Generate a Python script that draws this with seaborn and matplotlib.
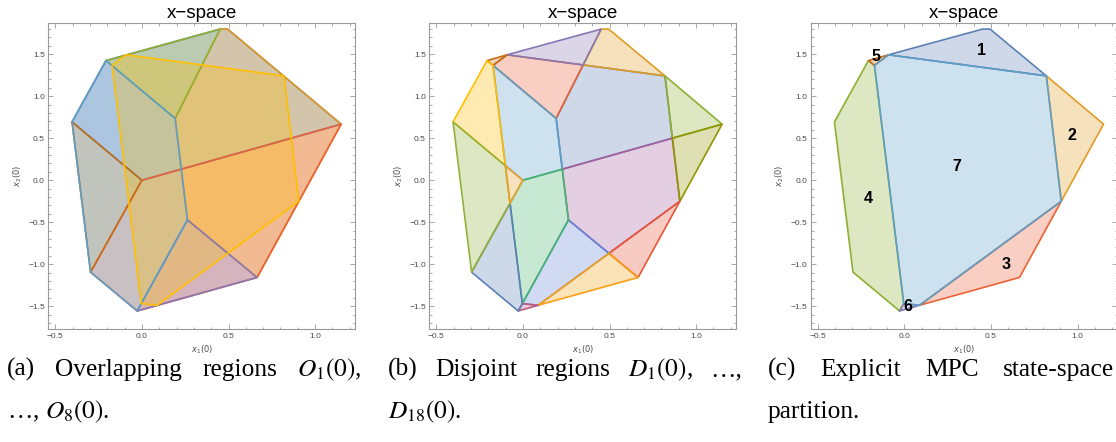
import numpy as np
import matplotlib
matplotlib.use("Agg")
import matplotlib.pyplot as plt
from matplotlib.patches import Polygon
from matplotlib.ticker import MultipleLocator
import seaborn as sns

# ---- corner points of the polytopes, (x1(0), x2(0)) ----
P1 = (-0.207, 1.425)
PTL = (0.452, 1.800)
PTR = (0.495, 1.800)
P3 = (1.150, 0.668)
P4 = (0.665, -1.157)
P5 = (-0.027, -1.556)
P6 = (-0.296, -1.094)
P7 = (-0.403, 0.695)
Q0 = (0.000, 0.000)
Q1 = (0.192, 0.736)
Q2 = (0.263, -0.472)
# corners of the unconstrained region
Y1 = (-0.172, 1.368)
Y2 = (-0.091, 1.494)
Y3 = (0.820, 1.243)
Y4 = (0.906, -0.250)
Y5 = (0.088, -1.488)
Y6 = (-0.003, -1.468)

# label positions of the explicit partition
region_labels = ["1", "2", "3", "4", "5", "6", "7"]
label_x1 = [0.443, 0.967, 0.588, -0.208, -0.164, 0.023, 0.306]
label_x2 = [1.550, 0.538, -1.008, -0.211, 1.474, -1.506, 0.159]

# axis ticks
xticks = [-0.5, 0.0, 0.5, 1.0]
yticks = [-1.5, -1.0, -0.5, 0.0, 0.5, 1.0, 1.5]
xlim = (-0.54, 1.23)
ylim = (-1.774, 1.869)

# default indexed palette
palette = sns.color_palette([
    "#5E81B5", "#E19C24", "#8FB032", "#EB6235", "#8778B3", "#C56E1A",
    "#5D9EC7", "#FFBF00", "#A5609D", "#929600", "#E95536", "#6685D9",
    "#F89F13", "#BC5B80", "#47B66D", "#5B7FB8", "#93B23A", "#EBA02A"])


def meet(a, b, c, d):
    """Intersection of line a-b with line c-d."""
    a, b, c, d = map(np.asarray, (a, b, c, d))
    r, s = b - a, d - c
    cr = r[0] * s[1] - r[1] * s[0]
    t = ((c - a)[0] * s[1] - (c - a)[1] * s[0]) / cr
    return tuple(a + t * r)


I1 = meet(Y2, Y3, Q1, PTL)
I2 = meet(Y1, Y6, Q0, P7)
I3 = meet(Q1, Q2, Q0, P3)
I4 = meet(Y1, Y6, Q0, P6)
I5 = meet(Y4, Y5, Q2, P4)
I6 = meet(Y3, Y4, Q0, P3)

# overlapping regions O_1 ... O_8
overlapping = [
    [Q0, P7, P1, PTL, PTR, P3],
    [Q1, PTL, PTR, P3, P4, Q2],
    [P1, PTL, Q1],
    [Q0, P3, P4, P5, P6],
    [Q2, P4, P5],
    [Q0, P6, P7],
    [P1, P7, P6, P5, Q2, Q1],
    [Y1, Y2, Y3, Y4, Y5, Y6],
]

# disjoint regions D_1 ... D_18
disjoint = [
    [I1, Y3, I6, I3, Q1],
    [I1, PTL, PTR, Y3],
    [Y3, P3, I6],
    [Y1, Y2, I1, Q1],
    [Y2, PTL, I1],
    [P1, Y2, Y1],
    [Y1, Q1, I3, Q0, I2],
    [P1, P7, I2, Y1],
    [I3, I6, Y4, I5, Q2],
    [I6, P3, Y4],
    [Y4, P4, I5],
    [Q2, I5, Y5, Y6],
    [I5, P4, Y5],
    [Y6, Y5, P5],
    [I4, Q0, I3, Q2, Y6],
    [P6, P5, Y6, I4],
    [P7, P6, I4, I2],
    [I2, Q0, I4],
]

# explicit MPC partition
partition = [
    [Y2, PTL, PTR, Y3],
    [Y3, P3, Y4],
    [Y4, P4, Y5],
    [P1, P7, P6, P5, Y6, Y1],
    [P1, Y2, Y1],
    [P5, Y5, Y6],
    [Y1, Y2, Y3, Y4, Y5, Y6],
]
partition_colors = [palette[0], palette[1], palette[3], palette[2],
                    palette[5], palette[4], palette[6]]

captions = [
    (["(a)", "Overlapping", "regions", r"$O_1(0)$,"], r"…, $O_8(0)$."),
    (["(b)", "Disjoint", "regions", r"$D_1(0)$,", "…,"], r"$D_{18}(0)$."),
    (["(c)", "Explicit", "MPC", "state-space"], "partition."),
]

sns.set_theme(style="ticks")
plt.rcParams["font.family"] = ["Liberation Sans", "DejaVu Sans"]

W, H = 1116, 442
fig = plt.figure(figsize=(W / 100, H / 100), dpi=100)

ax_w, ax_h = 306.7 / W, 306.0 / H
ax_bottom = 1 - 329.3 / H
lefts = [48.3 / W, 429.3 / W, 810.7 / W]
frame_col = "#9a9a9a"
text_col = "#4a4a4a"


def style_axes(ax):
    ax.set_xlim(*xlim)
    ax.set_ylim(*ylim)
    ax.set_xticks(xticks)
    ax.set_yticks(yticks)
    ax.set_xticklabels([f"{v:.1f}".replace("-", "\u2212") for v in xticks])
    ax.set_yticklabels([f"{v:.1f}".replace("-", "\u2212") for v in yticks])
    ax.xaxis.set_minor_locator(MultipleLocator(0.1))
    ax.yaxis.set_minor_locator(MultipleLocator(0.1))
    ax.tick_params(which="both", direction="in", top=True, right=True,
                   color=frame_col, width=0.6, labelsize=6,
                   labelcolor=text_col)
    ax.tick_params(which="major", length=3.5, pad=2.5)
    ax.tick_params(which="minor", length=1.8)
    for sp in ax.spines.values():
        sp.set_color(frame_col)
        sp.set_linewidth(0.8)
    ax.set_xlabel(r"$x_1(0)$", fontsize=6, color=text_col, labelpad=3)
    ax.set_ylabel(r"$x_2(0)$", fontsize=6, color=text_col, labelpad=3)
    ax.set_title("x\u2212space", fontsize=13.5, color="black", pad=4)
    ax.set_facecolor("white")


def draw_regions(ax, polys, colors):
    # translucent faces first, then the outlines in the same order
    for pts, col in zip(polys, colors):
        ax.add_patch(Polygon(np.array(pts), closed=True,
                             facecolor=(*col, 0.3), edgecolor="none",
                             zorder=1))
    for pts, col in zip(polys, colors):
        ax.add_patch(Polygon(np.array(pts), closed=True, fill=False,
                             edgecolor=col, linewidth=1.2,
                             joinstyle="round", zorder=2))


axes = [fig.add_axes([l, ax_bottom, ax_w, ax_h]) for l in lefts]
for ax in axes:
    style_axes(ax)

draw_regions(axes[0], overlapping, palette[:8])
draw_regions(axes[1], disjoint, palette[:18])
draw_regions(axes[2], partition, partition_colors)
for txt, lx, ly in zip(region_labels, label_x1, label_x2):
    axes[2].text(lx, ly, txt, fontsize=11.5, fontweight="bold",
                 ha="center", va="center", color="black", zorder=3)

# captions, first line justified across the column
renderer = fig.canvas.get_renderer()
cap_kw = dict(fontsize=18.3, family="Liberation Serif", math_fontfamily="stix",
              color="black", va="baseline", ha="left")
cap_spans = [(7, 362), (388, 742), (768, 1114)]
line1_y = 1 - 376 / H
line2_y = 1 - 418 / H
for (words, second), (x0, x1) in zip(captions, cap_spans):
    texts = [fig.text(0, line1_y, w, **cap_kw) for w in words]
    widths = [t.get_window_extent(renderer).width for t in texts]
    gap = (x1 - x0 - sum(widths)) / (len(words) - 1)
    x = x0
    for t, w in zip(texts, widths):
        t.set_x(x / W)
        x += w + gap
    fig.text(x0 / W, line2_y, second, **cap_kw)

fig.savefig("out.png", dpi=100, facecolor="white")
